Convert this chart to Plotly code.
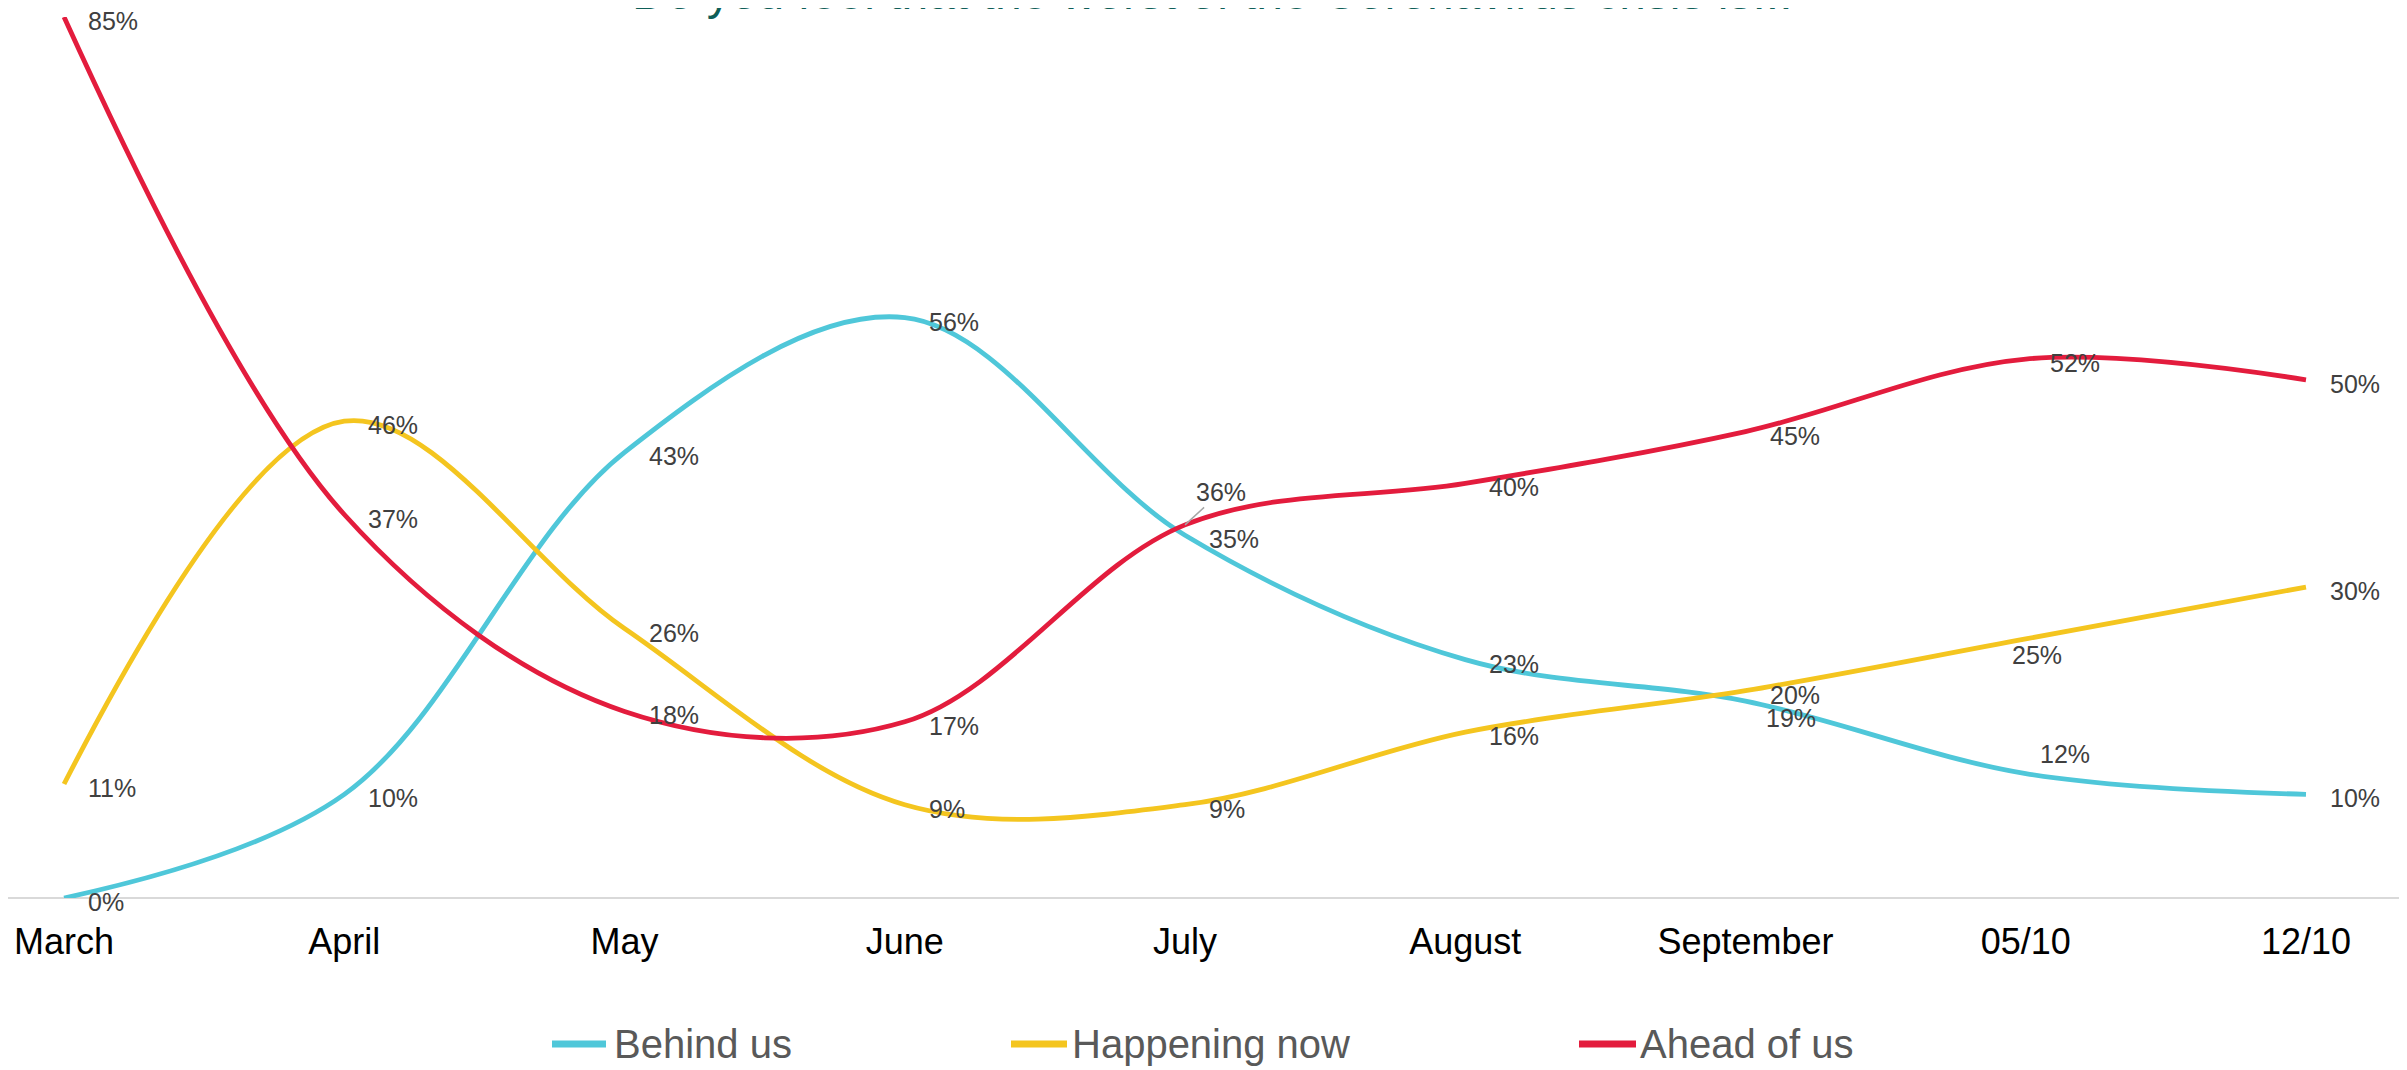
import plotly.graph_objects as go

# categories and series
months = ["March", "April", "May", "June", "July", "August", "September", "05/10", "12/10"]
behind_us = [0, 10, 43, 56, 35, 23, 19, 12, 10]
happening_now = [11, 46, 26, 9, 9, 16, 20, 25, 30]
ahead_of_us = [85, 37, 18, 17, 36, 40, 45, 52, 50]

series = [
    ("Behind us", behind_us, "#4FC7D9"),
    ("Happening now", happening_now, "#F4C51F"),
    ("Ahead of us", ahead_of_us, "#E31C3D"),
]

# the page body has an 8px margin, so figure pixels = page pixels - 8
W, H = 2407, 1070
top, bottom = 9, 890           # figure rows of 85% and 0%
plot_h = bottom - top
label_font = dict(family="Liberation Sans, Arial", size=25, color="#404040")

# labels that were nudged by hand in the original (xshift, yshift)
nudges = {
    ("Behind us", 6): (18, -17),
    ("Behind us", 7): (12, 20),
    ("Happening now", 7): (-16, -16),
}

fig = go.Figure()
annotations = []
shapes = []
for name, vals, color in series:
    fig.add_trace(go.Scatter(
        x=months, y=vals, name=name, mode="lines", showlegend=False,
        line=dict(color=color, width=4.8, shape="spline", smoothing=1.0),
        cliponaxis=False, hoverinfo="skip"))
    for i, (m, v) in enumerate(zip(months, vals)):
        if name == "Ahead of us" and i == 4:
            # label lifted above the line with a leader line
            annotations.append(dict(
                x=m, y=v, xref="x", yref="y", text=f"{v}%", showarrow=True,
                arrowhead=0, arrowwidth=1.5, arrowcolor="#A6A6A6",
                ax=36, ay=-33, standoff=0, font=label_font))
            continue
        xs, ys = nudges.get((name, i), (22, -4))
        annotations.append(dict(
            x=m, y=v, xref="x", yref="y", text=f"{v}%", showarrow=False,
            xanchor="left", yanchor="middle", xshift=xs, yshift=ys,
            font=label_font))

# title, mostly cut off at the top edge
annotations.append(dict(
    x=0.5, y=(bottom - 13) / plot_h, xref="paper", yref="paper",
    text="Do you feel that the worst of the Coronavirus crisis is...",
    showarrow=False, xanchor="center", yanchor="bottom",
    font=dict(family="Liberation Sans, Arial", size=48, color="#0E5E58")))

# legend drawn by hand so the swatches match the long original ones
legend_y = (bottom - 1036) / plot_h
legend_px = [(544, 598, 604), (1003, 1059, 1062), (1571, 1628, 1630)]
for (name, _, color), (x0, x1, xt) in zip(series, legend_px):
    shapes.append(dict(type="line", xref="paper", yref="paper",
                       x0=x0 / W, x1=x1 / W, y0=legend_y, y1=legend_y,
                       line=dict(color=color, width=7)))
    annotations.append(dict(
        x=xt / W, y=legend_y, xref="paper", yref="paper", text=name,
        showarrow=False, xanchor="left", yanchor="middle",
        font=dict(family="Liberation Sans, Arial", size=40, color="#595959")))

fig.update_layout(
    width=W, height=H,
    margin=dict(l=0, r=0, t=top, b=H - bottom, autoexpand=False),
    paper_bgcolor="white", plot_bgcolor="white",
    font=dict(family="Liberation Sans, Arial"),
    showlegend=False,
    xaxis=dict(type="category", range=[-0.2, 8.389], showgrid=False,
               zeroline=False, showline=False, ticks="", automargin=False,
               ticklabelstandoff=19,
               tickfont=dict(size=36, color="black")),
    yaxis=dict(range=[0, 85], showgrid=False, showticklabels=False,
               zeroline=True, zerolinecolor="#D9D9D9", zerolinewidth=2,
               showline=False, ticks="", automargin=False),
    annotations=annotations,
    shapes=shapes,
)

fig.write_html("out.html")
